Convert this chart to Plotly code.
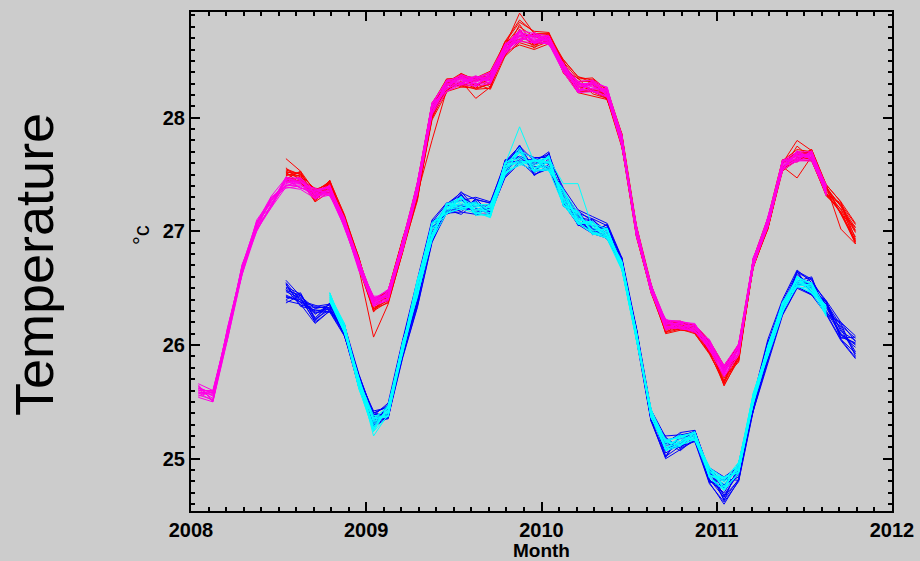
import plotly.graph_objects as go

# ---- data (monthly values, deg C); members = base + deviation/100 ----
X_TICKS = [2008, 2009, 2010, 2011, 2012]
X_TICK_LABELS = ["2008", "2009", "2010", "2011", "2012"]
Y_TICKS = [25, 26, 27, 28]
Y_TICK_LABELS = ["25", "26", "27", "28"]

# month offsets from Jan 2008 for the first value of each ensemble
RED_START, MAGENTA_START, BLUE_START, CYAN_START = 6, 0, 6, 9

RED_BASE = [27.50, 27.48, 27.32, 27.40, 27.10, 26.72, 26.35, 26.42, 26.88, 27.35,
            28.05, 28.28, 28.33, 28.30, 28.33, 28.60, 28.74, 28.68, 28.70, 28.45,
            28.28, 28.27, 28.20, 27.80, 27.00, 26.50, 26.16, 26.17, 26.14, 25.98,
            25.73, 25.93, 26.72, 27.07, 27.58, 27.67, 27.67, 27.36, 27.20, 26.97]
RED_DEV = [
    [2, 3, 4, 3, 2, 1, -2, -3, -1, 3, 5, 4, 3, 2, 5, 4, 6, 3, 2, 1, 4, 5, 3, 2, 1, 0, -2, -1, 0, 1, 3, 4, 2, 1, 2, 3, 2, 1, 3, 6],
    [-3, -2, -4, -2, -3, -2, 3, 2, 1, -4, -5, -3, -2, -4, -3, -5, -6, -4, -2, -3, -5, -4, -2, -3, -2, -1, 2, 1, 2, -2, -4, -3, -1, -2, -3, -2, -3, -2, -3, -5],
    [14, 5, 3, 4, 5, 4, 1, 0, 2, 6, 4, 2, 5, 4, 2, 3, 18, 6, 4, 3, 2, -2, 1, 3, 4, 2, 3, 2, 1, 4, 6, 5, 3, 4, 2, 13, 4, 3, 2, 4],
    [-5, -4, -6, -5, -4, -5, -28, -6, -5, -4, -3, -2, -4, -5, -3, -4, -2, -3, -4, -2, -3, -4, -3, -5, -4, -3, -5, -3, -4, -5, -6, -4, -3, -4, -3, -2, -3, -4, -3, -6],
    [0, 1, -1, 2, 1, 3, 4, 5, 3, -2, -25, -4, -1, -13, -6, 2, 3, -2, 1, 2, -2, 3, 2, 1, 0, 1, 1, 0, -1, 3, 5, 6, 1, 0, -1, -20, -1, 0, -1, -2],
    [4, 2, 5, 1, 3, 2, -1, 1, 4, 7, 7, 6, 2, 5, 8, 6, 10, 8, 5, 4, 6, 8, 4, 5, 3, 2, 4, 3, 3, 5, 7, 8, 3, 3, 4, 5, 3, 4, -18, -8],
    [-2, -5, 2, -3, -1, -4, -5, -4, -6, -6, -2, -5, -6, 0, -8, -6, -8, -6, -3, -5, -6, -8, -4, -2, -3, -4, -4, -2, -3, -4, -8, -6, -2, -4, -5, -4, -5, -3, -4, -8],
    [1, -1, 0, -1, 0, -1, 6, 4, 5, 2, 3, 1, 4, -2, 1, 0, 2, -1, 0, -1, 1, 2, -1, 0, 2, 3, 5, 4, 2, 1, -2, -1, 4, 2, 1, 2, 1, 2, 2, 3],
    [-1, 4, -3, 5, 4, 5, -4, -2, -3, 5, 1, 3, 6, 3, 4, 7, -2, 5, 3, 6, 8, 6, 5, 6, 5, 4, -3, 1, 4, 6, 9, 7, -4, 5, 5, -1, 5, 5, 6, 10],
    [3, 0, 1, -4, -5, -3, 2, 6, 6, -1, -6, 0, -3, 6, -4, -2, -10, -8, -5, -2, 0, -3, 0, -4, -5, -2, 0, -4, -2, -3, -1, -8, 0, -5, -2, 1, -4, -5, 0, 2],
    [6, -4, 3, -6, 2, 5, -6, 5, -2, 8, 6, -5, 4, 5, -6, -3, 8, -5, 3, -4, 7, -6, -3, 4, -2, 3, -5, 2, -3, 4, -7, 6, -2, 3, -4, 8, -3, 4, -5, 7],
    [-4, 5, -5, 3, -4, -2, 7, -3, 6, -7, -4, 5, -6, -4, 6, 4, -7, 6, -4, 5, -6, 7, 4, -5, 3, -3, 5, -3, 2, -5, 8, -5, 3, -4, 5, -6, 4, -3, 5, -8],
    [5, 2, -6, 4, -3, 3, -3, -5, -6, 4, 8, 3, -5, 3, 7, -6, 4, -7, 5, -6, 3, -3, 5, -5, 4, -4, 4, 3, -4, -6, -5, 7, -4, -3, 3, -4, 5, 4, -5, -6],
    [-6, -3, 6, -4, 4, -5, 5, 6, 5, -5, -7, -6, 6, -5, -7, 5, -5, 4, -5, 3, -4, 5, -5, 6, -4, 4, -6, -4, 4, 5, 6, -7, 4, 5, -5, 3, -5, -4, 4, 9],
    [2, -6, -2, 5, -5, -4, -4, 3, -4, -8, 2, 6, 1, 6, 3, 7, 12, 7, -2, 6, 8, 4, -4, -6, 5, -2, 6, -2, 3, 2, -9, -4, -3, -5, -3, -5, 2, 5, 6, -4],
]

MAGENTA_BASE = [25.60, 25.55, 26.10, 26.66, 27.05, 27.26, 27.43, 27.42, 27.33, 27.36,
                27.08, 26.70, 26.38, 26.44, 26.88, 27.38, 28.08, 28.28, 28.33, 28.32,
                28.35, 28.60, 28.72, 28.70, 28.68, 28.44, 28.27, 28.28, 28.22, 27.80,
                27.00, 26.50, 26.18, 26.18, 26.15, 26.00, 25.77, 25.96, 26.73, 27.08,
                27.58, 27.66, 27.66, 27.36]
MAGENTA_DEV = [
    [3, 2, 4, 2, 1, 2, 1, 2, 1, 0, 1, 2, 1, 2, 1, 3, 4, 3, 2, 1, 2, 2, 3, 2, 1, 2, 3, 2, 1, 2, 1, 0, 1, 1, 0, 1, 2, 3, 1, 2, 1, 2, 2, 1],
    [-4, -3, -2, -3, -2, -3, -2, -3, -2, -3, -2, -1, -2, -3, -2, -4, -3, -2, -3, -2, -4, -3, -2, -3, -2, -3, -2, -4, -3, -2, -3, -2, -3, -2, -2, -3, -4, -2, -2, -3, -2, -3, -3, -2],
    [6, 5, 2, 4, 3, 5, 4, 5, 3, 4, 3, 4, 3, 4, 3, 5, 5, 4, 4, 3, 5, 4, 5, 4, 4, 3, 5, 5, 4, 3, 4, 3, 4, 3, 3, 4, 5, 5, 3, 4, 4, 4, 4, 4],
    [-6, -5, -5, -4, -4, -5, -4, -5, -4, -4, -4, -3, -4, -4, -4, -5, -5, -5, -4, -4, -5, -4, -5, -4, -3, -4, -5, -5, -4, -4, -3, -3, -4, -3, -3, -4, -5, -5, -3, -4, -4, -4, -4, -3],
    [1, -2, 5, 1, 2, 0, 3, 1, 4, 2, 0, 4, 2, 0, 4, 2, -1, 1, 2, 3, 0, 1, -1, 2, 3, 1, 0, 1, 2, 4, 2, 1, 2, 3, 1, 0, -1, 1, 2, 1, 3, 0, 1, 2],
    [-2, 4, 0, -1, -2, 3, -1, 4, -1, -2, 2, -2, -1, 3, -1, 0, 2, -3, 0, -1, 3, -2, 1, -1, 0, -2, 2, 3, -1, -2, 0, 2, -2, 0, 2, -2, 1, -3, 0, -2, -1, 1, -2, 0],
    [4, -4, -4, 3, 4, -4, 2, -4, 2, 3, -3, 1, 4, -2, 2, -3, 3, 5, -2, 4, -3, 3, 4, 0, -4, 4, -4, -2, 3, 1, -2, -1, 3, -1, -1, 3, 3, 2, -1, 3, -3, 3, -1, 4],
    [-1, 1, 1, -2, 0, 1, 0, 0, -3, 1, 4, -4, 0, 1, -4, 4, 0, -1, 3, -3, 1, -1, -4, 3, 2, -1, 1, 0, -2, 0, 3, -3, 0, 2, -3, 2, -2, 0, 3, -1, 2, -2, 3, -4],
    [2, 0, -1, 0, -3, 4, -3, 2, 0, -1, 1, 3, -3, 4, 3, 1, -4, 2, -4, 2, 4, 0, 2, -2, 1, 2, -1, 4, 0, -3, 1, 1, -1, -3, 3, 1, 0, 4, -3, 0, 4, 1, 0, 3],
    [-3, 3, 3, -3, 3, -1, -3, -1, -1, -4, -1, 0, -1, -1, 0, -1, 1, 0, 1, 0, -1, -4, 0, 1, -1, 0, 4, -1, 2, 2, -4, 0, -3, 1, 0, -1, 4, -1, 1, -4, 0, -1, 2, -1],
    [5, -5, 3, -4, 2, 4, -3, 3, -4, 2, 4, -3, 3, -4, 3, -5, 4, -3, 4, -3, 2, -4, 3, -3, 4, -4, 3, -3, 4, -3, 3, -3, 2, -3, 3, -4, 4, -4, 2, -3, 4, -3, 4, -4],
    [-5, 4, -3, 5, -4, -3, 4, -4, 3, -3, -4, 3, -4, 4, -3, 4, -4, 4, -3, 4, -3, 4, -4, 3, -3, 4, -4, 4, -3, 4, -4, 3, -3, 2, -3, 3, -3, 4, -3, 4, -4, 4, -3, 3],
    [2, 3, -5, -2, 5, 2, -5, -2, 5, -5, 2, 5, -2, -5, 5, 2, -5, 5, 2, -5, 5, 2, -5, 5, -2, -3, 5, -5, 2, 5, -2, 4, -5, 2, 4, -5, 2, -5, 4, -2, 5, -5, 2, -5],
    [-2, -4, 5, 0, -5, -2, 5, 0, -5, 5, -2, -5, 2, 5, -5, -2, 5, -5, -2, 5, -5, -2, 5, -5, 2, 3, -5, 5, -2, -5, 2, -4, 5, -2, -4, 5, -2, 5, -4, 2, -5, 5, -2, 5],
    [0, 5, 0, 4, -1, -5, 2, 5, 0, 4, -5, 0, 5, -1, 0, 5, 2, 0, 5, 1, -2, 5, 0, -4, 4, 0, -3, 2, 5, -4, 5, -1, 4, -4, -2, -2, 5, 2, -5, 5, 0, -4, 5, 0],
]

BLUE_BASE = [26.47, 26.40, 26.27, 26.33, 26.13, 25.68, 25.35, 25.42, 25.97, 26.45,
             27.00, 27.20, 27.25, 27.22, 27.20, 27.55, 27.68, 27.57, 27.62, 27.30,
             27.12, 27.05, 27.00, 26.72, 26.10, 25.38, 25.10, 25.15, 25.20, 24.85,
             24.72, 24.88, 25.48, 25.95, 26.33, 26.58, 26.52, 26.33, 26.12, 25.98]
BLUE_DEV = [
    [10, 3, 5, 2, 3, 4, 5, 4, 6, 10, 8, 4, 9, 6, 5, 6, 7, 5, 6, 5, 4, 6, 5, 3, 4, 3, 6, 5, 4, 5, 8, 6, 4, 7, 5, 6, 5, 4, 5, 8],
    [-8, -4, -8, -3, -4, -5, -6, -5, -7, -11, -9, -4, -8, -7, -5, -7, -6, -7, -7, -6, -6, -7, -6, -4, -4, -4, -10, -7, -4, -6, -12, -7, -5, -9, -6, -7, -7, -5, -7, -9],
    [4, 5, -3, 4, 5, 6, 3, 7, 8, 12, 10, 5, 2, 8, 6, 4, 2, 8, 3, 8, 7, 8, 7, 5, 5, 5, 3, 8, 5, 3, 2, 8, 6, 10, 7, 8, 3, 6, 8, 10],
    [-3, -2, 3, -1, -2, -3, -7, -6, -8, -12, -10, -2, -5, -3, -4, -8, -8, -4, -8, -2, -3, -5, -4, -5, -2, -3, -8, -4, -5, -7, -10, -8, -6, -10, -7, -8, -8, -6, -8, -10],
    [0, 1, -6, 1, 2, -2, -3, -2, 3, 5, -3, 1, 10, -2, 0, 2, 8, -3, 0, 3, -1, 0, 2, -1, 1, 2, -5, -2, 2, 0, -4, -1, 2, 3, 2, 4, -1, 0, -2, 2],
    [6, -3, 2, -4, -5, 2, 7, 3, -4, -5, 4, -5, -4, 5, -6, 8, -2, 4, 8, -8, 5, -2, -7, 2, -5, -5, 10, 6, -3, 7, 12, 5, -4, -5, -4, -2, 8, -6, 4, -4],
    [-5, 0, 0, 3, 0, -4, 0, -7, 1, -2, 2, 3, 4, -8, 3, -4, 4, -8, -3, 1, -7, 3, -2, -3, 3, -1, -2, 0, 5, -3, -6, 2, 1, -2, -2, 2, -5, 3, -5, 4],
    [2, -5, 6, 0, 4, 0, -2, 2, -3, 2, -6, -1, -10, 3, -3, 1, -5, 2, 4, -4, 2, -8, 4, 4, -1, 5, 5, -8, -2, 2, 5, -4, -3, 5, 4, -5, 2, 2, 2, -6],
    [-10, 4, -4, -2, -3, 5, -5, 0, -1, -8, 6, -3, 6, 0, 4, -2, -3, 0, -5, 6, 0, 5, 0, 0, 2, 0, -3, 3, 0, -5, 3, 0, 3, -3, 0, -3, 0, -3, -3, 0],
    [8, -1, 8, -2, -1, -6, 2, -3, 4, 8, -1, 2, -2, -5, -2, 5, 5, -5, 2, -5, 3, -3, -5, -2, 0, -2, 0, -5, -1, 4, -8, -6, 5, 2, -5, 6, -3, 5, 0, 6],
    [7, -6, 4, -4, 6, -5, 6, -6, 5, -9, 8, -5, 8, -6, 5, -7, 6, -6, 7, -7, 5, -6, 6, -4, 5, -4, 8, -6, 4, -6, 10, -7, 5, -8, 6, -7, 7, -5, 7, -8],
    [-7, 6, -5, 4, -5, 5, -6, 6, -6, 10, -8, 5, -8, 7, -5, 7, -7, 6, -7, 7, -6, 6, -5, 5, -4, 4, -8, 7, -5, 6, -9, 7, -6, 8, -6, 7, -7, 6, -6, 9],
    [3, 2, -7, -3, 4, 3, -4, -5, 7, 4, 9, -4, -6, 6, 5, -6, -7, 7, 5, -6, 6, 4, -6, -4, 4, -5, -9, 6, 3, -5, 4, 8, -5, -7, 5, -6, -8, 5, -7, -5],
    [-4, -2, 7, 3, -4, -4, 5, 5, -6, -6, -7, 4, 7, -7, -5, 6, 7, -7, -6, 6, -5, -5, 6, 4, -5, 5, 9, -6, -4, 6, -5, -7, 5, 8, -5, 7, 6, -5, 8, 5],
    [1, 4, 1, -1, 1, 6, 4, -4, -2, -10, 3, -3, -2, 4, -3, 3, -2, 3, -2, -3, 2, -3, 3, 1, -2, -3, 2, -2, 5, -4, -2, 3, 2, -3, 3, -4, -2, 2, -3, 3],
]

CYAN_BASE = [26.42, 26.15, 25.66, 25.30, 25.42, 25.98, 26.50, 27.00, 27.20, 27.25,
             27.20, 27.18, 27.55, 27.66, 27.58, 27.60, 27.30, 27.12, 27.03, 26.98,
             26.70, 26.08, 25.40, 25.12, 25.16, 25.20, 24.88, 24.78, 24.92, 25.53,
             25.95, 26.33, 26.56, 26.50, 26.30]
CYAN_DEV = [
    [3, 2, 4, -10, -3, 2, 6, 5, 3, 4, 2, 3, 4, 26, 3, 4, 12, 30, 0, 3, 2, 3, 2, 3, 4, 2, 3, 4, 3, 4, 3, 4, 3, 4, 3],
    [-3, -3, -4, -6, -4, -4, -6, -7, -4, -5, -4, -5, -5, -6, -5, -6, -7, -5, -5, -4, -3, -3, -3, -4, -4, -3, -4, -5, -4, -4, -4, -4, -4, -4, -4],
    [1, 4, -1, 4, 5, -2, 3, 8, -3, 6, -5, 2, -2, 5, 6, -4, 3, -2, 5, -1, 4, 1, -2, 5, 2, 4, -3, 6, -2, 5, 1, -3, 5, -2, 2],
    [-2, 0, 3, -4, 1, 5, -8, -2, 4, -3, 5, -4, 6, -2, -4, 7, -5, 4, -3, 5, -2, -4, 4, -4, -3, -1, 5, -5, 4, -3, 5, 2, -2, 3, -5],
    [4, -2, 5, 2, -2, 0, 8, -4, 1, -6, 3, 6, 0, 8, -6, 2, -8, 6, -6, 2, 0, 4, 0, 2, 5, -4, 1, 3, 5, -5, -2, 5, 0, 5, 0],
    [0, 3, -3, 6, 3, -5, -3, 2, -5, 2, -3, -6, 3, -4, 2, -7, 6, -3, 2, -5, -4, -2, 3, -5, -5, 3, -5, -6, -5, 2, -5, -5, 4, -5, 4],
    [-4, -4, 2, 8, -5, 4, -2, -8, 5, -2, 6, 0, -6, 0, 0, 5, -3, -6, 6, -3, 3, 2, -4, 0, 1, -2, 2, -2, 1, -2, 4, 0, -5, 0, -3],
    [2, -1, -5, 0, 0, -3, 5, 3, -1, 0, -1, 4, -3, -8, 4, 0, 0, 2, -2, 4, -1, -1, 1, -2, -2, 0, -2, 0, -1, 0, -3, 3, 1, -3, 5],
    [-1, 1, 0, -2, 3, 3, -5, -5, 2, -4, 1, -2, 5, 3, -2, -3, 5, 0, 3, 0, 1, 0, -1, 4, 3, -4, 4, -3, 2, 3, 2, -2, -3, 2, -2],
    [4, -2, 1, 3, -1, 1, 1, 6, 0, 5, -6, -3, 2, -5, 5, 1, -2, -4, -4, -2, -2, 3, 2, -3, -1, 3, 0, 2, -3, -3, 0, 1, 2, -1, 1],
    [4, -3, 5, -6, 4, -4, 7, -6, 4, -5, 5, -5, 5, -7, 5, -6, 7, -5, 5, -4, 3, -3, 4, -4, 4, -3, 4, -5, 4, -4, 4, -4, 4, -4, 4],
    [-4, 3, -4, 6, -4, 5, -7, 7, -4, 5, -5, 5, -5, 6, -5, 6, -7, 5, -5, 4, -3, 3, -4, 4, -4, 3, -4, 5, -4, 4, -4, 4, -4, 4, -4],
    [2, 4, -4, -5, 5, 3, -6, -6, 4, 5, -4, -5, 4, 5, -4, -5, 6, 4, -4, -4, 3, 3, -3, -4, 4, 3, -4, -5, 4, 4, -4, -4, 4, 4, -4],
    [-2, -4, 4, 5, -5, -3, 6, 6, -4, -5, 4, 5, -4, -6, 4, 5, -6, -4, 4, 4, -3, -3, 3, 4, -4, -3, 4, 5, -4, -4, 4, 4, -4, -4, 4],
    [0, -1, 2, -3, 1, -1, 2, -3, 1, 2, -2, 1, -1, 3, -2, 1, -1, -1, 2, -2, 1, -1, 0, 2, -1, 1, -2, 2, -1, 1, -1, 1, -1, 1, -1],
]

RED, MAGENTA, BLUE, CYAN = "#ff0000", "#ff00e6", "#0000ff", "#00ffff"
FONT = "Liberation Sans, Arial, Helvetica, sans-serif"


def month_x(start, n):
    return [2008 + (start + i + 0.5) / 12.0 for i in range(n)]


def member(base, dev):
    return [round(b + d / 100.0, 3) for b, d in zip(base, dev)]


fig = go.Figure()


def add(base, devs, start, color):
    xs = month_x(start, len(base))
    for dev in devs:
        fig.add_trace(go.Scatter(x=xs, y=member(base, dev), mode="lines",
                                 line=dict(color=color, width=1),
                                 hoverinfo="skip", showlegend=False))


add(RED_BASE, RED_DEV, RED_START, RED)
add(MAGENTA_BASE, MAGENTA_DEV, MAGENTA_START, MAGENTA)
add(BLUE_BASE, BLUE_DEV, BLUE_START, BLUE)
add(CYAN_BASE, CYAN_DEV, CYAN_START, CYAN)

L, R, T, B = 191, 28, 12, 50
W, H = 920, 561
PW, PH = W - L - R, H - T - B


def px(xp):
    return (xp - L) / PW


def py(yp):
    return (H - B - yp) / PH


axis_common = dict(
    showline=True, linecolor="black", linewidth=2, mirror="ticks",
    ticks="inside", ticklen=9, tickwidth=1.5, tickcolor="black",
    showgrid=False, zeroline=False, automargin=False,
    tickfont=dict(family=FONT, size=20, color="black", weight="bold"),
)

fig.update_layout(
    width=W, height=H,
    margin=dict(l=L, r=R, t=T, b=B, pad=0),
    paper_bgcolor="#cccccc", plot_bgcolor="#cccccc",
    xaxis=dict(range=[2008, 2012], tickvals=X_TICKS, ticktext=X_TICK_LABELS,
               minor=dict(ticks="inside", ticklen=4, tickwidth=1.5, tickcolor="black",
                          tick0=2008, dtick=0.1, showgrid=False),
               **axis_common),
    yaxis=dict(range=[24.54, 28.93], tickvals=Y_TICKS, ticktext=Y_TICK_LABELS,
               minor=dict(ticks="inside", ticklen=4, tickwidth=1.5, tickcolor="black",
                          tick0=24, dtick=0.1, showgrid=False),
               **axis_common),
    annotations=[
        dict(text="Temperature", xref="paper", yref="paper", x=px(34), y=py(265),
             textangle=-90, showarrow=False, xanchor="center", yanchor="middle",
             font=dict(family=FONT, size=54, color="black")),
        dict(text="°c", xref="paper", yref="paper", x=px(141), y=py(235),
             textangle=-90, showarrow=False, xanchor="center", yanchor="middle",
             font=dict(family=FONT, size=22, color="black")),
        dict(text="Month", xref="paper", yref="paper", x=px(541), y=py(550),
             showarrow=False, xanchor="center", yanchor="middle",
             font=dict(family=FONT, size=19, color="black", weight="bold")),
    ],
)

fig.write_html("out.html")
